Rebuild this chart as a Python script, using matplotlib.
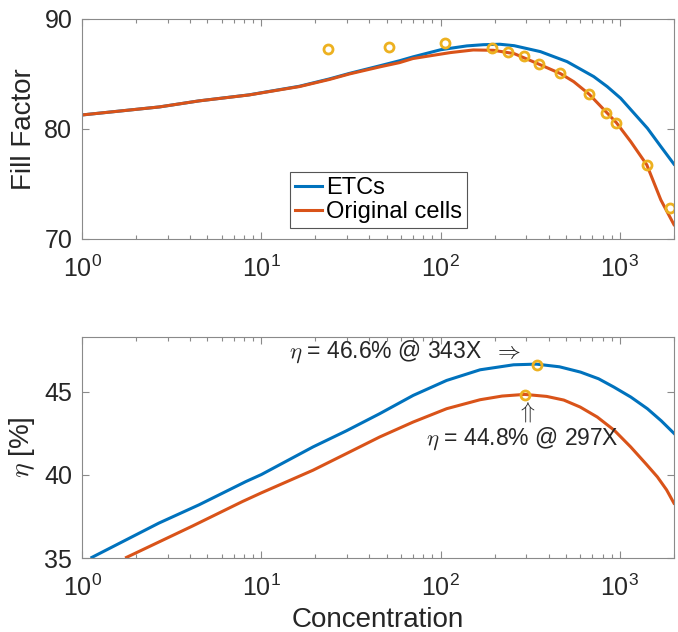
import numpy as np
import matplotlib
matplotlib.use('Agg')
import matplotlib.pyplot as plt

plt.rcParams['font.family'] = ['Liberation Sans', 'DejaVu Sans']
plt.rcParams['mathtext.fontset'] = 'cm'

# ---- data ----
# fill factor vs concentration
conc_ff_etc = [1, 2.7, 4.49, 8.55, 12.6, 16.3, 24, 31, 46, 59, 70, 100, 113, 140, 173, 214,
               257, 360, 507, 714, 849, 1009, 1423, 1690, 2000]
ff_etc = [81.27, 82.0, 82.55, 83.1, 83.57, 83.88, 84.55, 85.05, 85.75, 86.2, 86.55, 87.2, 87.33, 87.55, 87.66, 87.7,
          87.57, 87.03, 86.12, 84.76, 83.85, 82.79, 80.06, 78.4, 76.8]

conc_ff_orig = [1, 2.7, 4.49, 8.55, 12.6, 16.3, 24, 31, 46, 59, 70, 113, 152, 197, 257, 352, 466, 552, 674,
                955, 1148, 1412, 1690, 2000]
ff_orig = [81.27, 82.0, 82.55, 83.09, 83.55, 83.85, 84.5, 85.0, 85.65, 86.03, 86.4, 86.94, 87.18, 87.15, 86.85,
           85.9, 85.03, 84.3, 83.15, 80.57, 78.85, 76.73, 73.55, 71.3]

meas_conc = [23.6, 51.5, 106, 194, 238, 293, 352, 462, 674, 836, 955, 1412, 1905]
meas_ff = [87.3, 87.48, 87.85, 87.34, 86.97, 86.6, 85.9, 85.09, 83.15, 81.48, 80.57, 76.73, 72.79]

# efficiency vs concentration
conc_eta_etc = [1.135, 2.68, 4.49, 8.2, 10, 19.4, 29.8, 45.7, 70.3, 108, 166, 255, 342, 460, 603, 760, 925,
                1150, 1422, 1700, 2000]
eta_etc = [35.04, 37.1, 38.2, 39.6, 40.02, 41.68, 42.65, 43.68, 44.78, 45.68, 46.32, 46.62, 46.66, 46.5,
           46.18, 45.78, 45.28, 44.68, 43.98, 43.25, 42.5]

conc_eta_orig = [1.77, 4.12, 7.85, 10, 19.4, 29.8, 45.7, 70.3, 108, 166, 220, 294, 390, 486, 600, 747, 930,
                 1148, 1400, 1617, 1820, 2000]
eta_orig = [35.04, 36.92, 38.4, 38.92, 40.28, 41.28, 42.28, 43.18, 43.98, 44.52, 44.74, 44.84, 44.72, 44.5,
            44.08, 43.48, 42.68, 41.68, 40.65, 39.88, 39.1, 38.3]

peak_conc = [343, 297]
peak_eta = [46.6, 44.8]

blue = '#0072BD'
orange = '#D95319'
yellow = '#EDB120'
gray = '#8a8a8a'
txt = '#262626'

fig = plt.figure(figsize=(6.78, 6.32), dpi=100)
ax1 = fig.add_axes([0.121, 0.622, 0.873, 0.348])
ax2 = fig.add_axes([0.121, 0.117, 0.873, 0.350])

ax1.plot(conc_ff_etc, ff_etc, color=blue, lw=2.2, label='ETCs')
ax1.plot(conc_ff_orig, ff_orig, color=orange, lw=2.2, label='Original cells')
ax1.plot(meas_conc, meas_ff, 'o', mfc='none', mec=yellow, mew=2, ms=6.5)
ax1.set_ylim(70, 90)
ax1.set_yticks([70, 80, 90])
ax1.set_ylabel('Fill Factor', fontsize=20, color=txt, labelpad=5)
leg = ax1.legend(loc='lower left', bbox_to_anchor=(0.351, 0.05), fontsize=17,
                 frameon=True, fancybox=False, framealpha=1, edgecolor='#555555',
                 handlelength=1.15, handletextpad=0.2, borderpad=0.2,
                 labelspacing=0.1, borderaxespad=0)
leg.get_frame().set_linewidth(0.8)

ax2.plot(conc_eta_etc, eta_etc, color=blue, lw=2.2)
ax2.plot(conc_eta_orig, eta_orig, color=orange, lw=2.2)
ax2.plot(peak_conc, peak_eta, 'o', mfc='none', mec=yellow, mew=2, ms=6.5)
ax2.set_ylim(35, 48.3)
ax2.set_yticks([35, 40, 45])
ax2.set_ylabel(r'$\eta$ [%]', fontsize=20, color=txt, labelpad=5)
ax2.set_xlabel('Concentration', fontsize=20, color=txt, labelpad=4)

ax2.text(14.3, 47.38, r'$\eta$ = %.1f%% @ %dX  $\Rightarrow$' % (peak_eta[0], peak_conc[0]),
         fontsize=16.5, color=txt, ha='left', va='center')
ax2.text(peak_conc[1], 43.76, r'$\Uparrow$', fontsize=16.5, color=txt, ha='center', va='center')
ax2.text(83, 42.18, r'$\eta$ = %.1f%% @ %dX' % (peak_eta[1], peak_conc[1]),
         fontsize=16.5, color=txt, ha='left', va='center')

for ax in (ax1, ax2):
    ax.set_xscale('log')
    ax.set_xlim(1, 2000)
    ax.set_xticks([1, 10, 100, 1000])
    ax.tick_params(which='both', direction='in', top=True, right=True,
                   colors=gray, labelcolor=txt, labelsize=18, width=0.8)
    ax.tick_params(which='major', length=5)
    ax.tick_params(which='minor', length=3)
    ax.tick_params(axis='y', pad=7)
    ax.tick_params(axis='x', pad=12)
    for s in ax.spines.values():
        s.set_color(gray)
        s.set_linewidth(0.8)

fig.savefig('out.png', dpi=100)
